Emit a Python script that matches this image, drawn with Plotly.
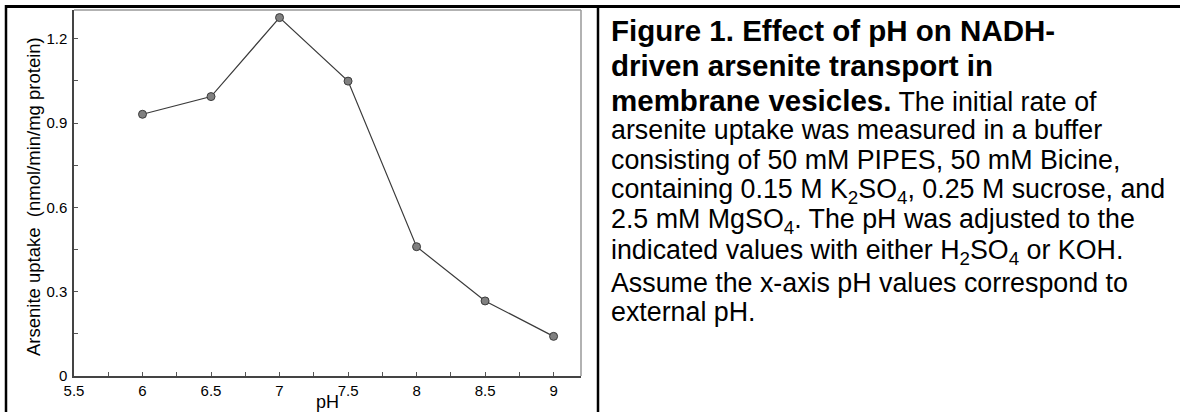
import plotly.graph_objects as go

# ---- data ----
ph = [6.0, 6.5, 7.0, 7.5, 8.0, 8.5, 9.0]
uptake = [0.931, 0.994, 1.275, 1.049, 0.460, 0.267, 0.141]

x_tickvals = [5.5, 5.75, 6.0, 6.25, 6.5, 6.75, 7.0, 7.25, 7.5, 7.75, 8.0, 8.25, 8.5, 8.75, 9.0]
x_ticktext = ["5.5", "", "6", "", "6.5", "", "7", "", "7.5", "", "8", "", "8.5", "", "9"]
y_tickvals = [0, 0.15, 0.3, 0.45, 0.6, 0.75, 0.9, 1.05, 1.2]
y_ticktext = ["0", "", "0.3", "", "0.6", "", "0.9", "", "1.2"]

x_title = "pH"
y_title = "Arsenite uptake\u00a0 (nmol/min/mg protein)"

caption_lines = [
    "<b>Figure 1. Effect of pH on NADH-</b>",
    "<b>driven arsenite transport in</b>",
    "<b>membrane vesicles.</b><span style='font-size:26.8px'> The initial rate of</span>",
    "arsenite uptake was measured in a buffer",
    "consisting of 50 mM PIPES, 50 mM Bicine,",
    "containing 0.15 M K<sub>2</sub>SO<sub>4</sub>, 0.25 M sucrose, and",
    "2.5 mM MgSO<sub>4</sub>. The pH was adjusted to the",
    "indicated values with either H<sub>2</sub>SO<sub>4</sub> or KOH.",
    "Assume the x-axis pH values correspond to",
    "external pH.",
]

# ---- layout geometry (pixels) ----
W, H = 1180, 412
L, R, T, B = 74, 581, 10, 376
FONT = "Liberation Sans, Arial, Helvetica, sans-serif"


def px_x(x):
    return (x - L) / (R - L)


def px_y(y):
    return (B - y) / (B - T)


fig = go.Figure()
fig.add_trace(go.Scatter(
    x=ph, y=uptake, mode="lines+markers",
    line=dict(color="#3a3a3a", width=1.2),
    marker=dict(size=8, color="#808080", line=dict(color="#3a3a3a", width=1)),
    showlegend=False, hoverinfo="x+y",
))

fig.update_layout(
    width=W, height=H,
    margin=dict(l=L, r=W - R, t=T, b=H - B, pad=0, autoexpand=False),
    paper_bgcolor="white", plot_bgcolor="white",
    font=dict(family=FONT, color="black", size=15),
    xaxis=dict(
        range=[5.5, 9.2], tickvals=x_tickvals, ticktext=x_ticktext,
        ticks="inside", ticklen=4, tickcolor="#555", tickwidth=1,
        showgrid=False, zeroline=False, automargin=False,
        showline=True, linecolor="#444", linewidth=1.5,
        tickfont=dict(size=15), ticklabelstandoff=0,
    ),
    yaxis=dict(
        range=[0, 1.302], tickvals=y_tickvals, ticktext=y_ticktext,
        ticks="inside", ticklen=4, tickcolor="#555", tickwidth=1,
        showgrid=False, zeroline=False, automargin=False,
        showline=True, linecolor="#444", linewidth=1.5,
        tickfont=dict(size=15), ticklabelstandoff=2,
    ),
)

shapes = [
    # top/right plot frame (lighter)
    dict(type="line", xref="paper", yref="paper", x0=0, x1=1, y0=1, y1=1,
         line=dict(color="#999", width=1.5)),
    dict(type="line", xref="paper", yref="paper", x0=1, x1=1, y0=0, y1=1,
         line=dict(color="#999", width=1.5)),
    # outer table borders
    dict(type="line", xref="paper", yref="paper", x0=px_x(5), x1=px_x(W + 5),
         y0=px_y(6.5), y1=px_y(6.5), line=dict(color="black", width=3)),
    dict(type="line", xref="paper", yref="paper", x0=px_x(6), x1=px_x(6),
         y0=px_y(5), y1=px_y(H + 5), line=dict(color="black", width=2.5)),
    dict(type="line", xref="paper", yref="paper", x0=px_x(598), x1=px_x(598),
         y0=px_y(5), y1=px_y(H + 5), line=dict(color="black", width=2.5)),
]
fig.update_layout(shapes=shapes)

# axis titles
fig.add_annotation(
    text=y_title, xref="paper", yref="paper", x=px_x(33), y=px_y(197),
    xanchor="center", yanchor="middle", textangle=-90, showarrow=False,
    font=dict(size=18.5, family=FONT, color="black"),
)
fig.add_annotation(
    text=x_title, xref="paper", yref="paper", x=0.5, y=px_y(401.5),
    xanchor="center", yanchor="middle", showarrow=False,
    font=dict(size=18, family=FONT, color="black"),
)

line_y = [31, 66, 100, 130, 160.5, 191, 221.5, 252, 282.5, 312]
for i, (txt, yy) in enumerate(zip(caption_lines, line_y)):
    size = 29.5 if i < 3 else 26.8
    fig.add_annotation(
        text=txt, xref="paper", yref="paper", x=px_x(609), y=px_y(yy),
        xanchor="left", yanchor="middle", showarrow=False,
        font=dict(size=size, family=FONT, color="black"), align="left",
    )

fig.write_html(
    "out.html",
    config={"displayModeBar": False},
    post_script="document.body.style.margin='0';",
)
